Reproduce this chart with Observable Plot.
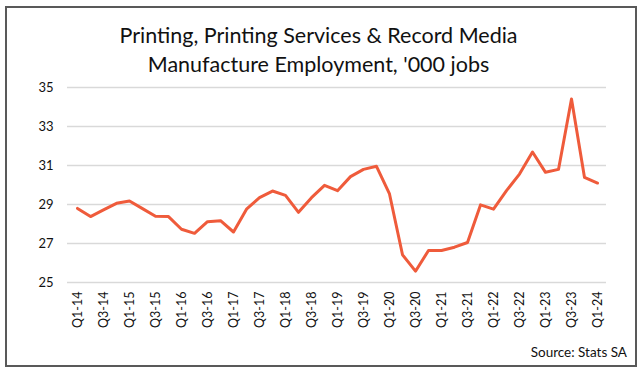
<!DOCTYPE html>
<html>
<head>
<meta charset="utf-8">
<script src="https://cdn.jsdelivr.net/npm/d3@7"></script>
<script src="https://cdn.jsdelivr.net/npm/@observablehq/plot@0.6"></script>
<style>
  html, body { margin: 0; padding: 0; background: #fff; }
  #wrap { position: relative; width: 643px; height: 383px; font-family: Lato, "Open Sans", sans-serif; }
  #frame { position: absolute; left: 5px; top: 6px; width: 628px; height: 357px; border: 2px solid #595959; }
  #title { position: absolute; left: -3px; width: 643px; top: 21px; text-align: center; font-size: 21.5px; line-height: 29px; color: #111; }
  #chart { position: absolute; left: 0; top: 76px; }
  #source { position: absolute; right: 16px; top: 344px; font-size: 13.5px; color: #111; }
</style>
</head>
<body>
<div id="wrap">
  <div id="frame"></div>
  <div id="title">Printing, Printing Services &amp; Record Media<br>Manufacture Employment, '000 jobs</div>
  <div id="chart"></div>
  <div id="source">Source: Stats SA</div>
</div>
<script>
const quarters = [
  "Q1-14","Q2-14","Q3-14","Q4-14",
  "Q1-15","Q2-15","Q3-15","Q4-15",
  "Q1-16","Q2-16","Q3-16","Q4-16",
  "Q1-17","Q2-17","Q3-17","Q4-17",
  "Q1-18","Q2-18","Q3-18","Q4-18",
  "Q1-19","Q2-19","Q3-19","Q4-19",
  "Q1-20","Q2-20","Q3-20","Q4-20",
  "Q1-21","Q2-21","Q3-21","Q4-21",
  "Q1-22","Q2-22","Q3-22","Q4-22",
  "Q1-23","Q2-23","Q3-23","Q4-23",
  "Q1-24"
];
const jobs = [
  28.80, 28.38, 28.72, 29.06,
  29.18, 28.79, 28.40, 28.38,
  27.73, 27.52, 28.12, 28.17,
  27.59, 28.76, 29.35, 29.69,
  29.47, 28.60, 29.35, 29.98,
  29.71, 30.43, 30.80, 30.96,
  29.54, 26.42, 25.58, 26.64,
  26.64, 26.81, 27.05, 28.98,
  28.76, 29.71, 30.56, 31.69,
  30.65, 30.80, 34.41, 30.39,
  30.10
];
const xTickLabels = [
  "Q1-14","Q3-14","Q1-15","Q3-15","Q1-16","Q3-16","Q1-17","Q3-17",
  "Q1-18","Q3-18","Q1-19","Q3-19","Q1-20","Q3-20","Q1-21","Q3-21",
  "Q1-22","Q3-22","Q1-23","Q3-23","Q1-24"
];
const yTicks = [25, 27, 29, 31, 33, 35];

const data = quarters.map((q, i) => ({q, v: jobs[i]}));

const chart = Plot.plot({
  width: 643,
  height: 270,
  marginLeft: 67,
  marginRight: 37,
  marginTop: 11,
  marginBottom: 64,
  style: {fontFamily: "Lato, 'Open Sans', sans-serif", color: "#111", background: "transparent"},
  x: {type: "point", domain: quarters, padding: 0.5},
  y: {domain: [25, 35]},
  marks: [
    Plot.gridY(yTicks, {stroke: "#d9d9d9", strokeOpacity: 1, strokeWidth: 1.5}),
    Plot.axisY(yTicks, {tickSize: 0, tickPadding: 14, fontSize: 13, label: null}),
    Plot.axisX(xTickLabels, {tickSize: 0, tickPadding: 9, tickRotate: -90, fontSize: 12.5, label: null}),
    Plot.line(data, {x: "q", y: "v", stroke: "#EF5B3B", strokeWidth: 3, strokeLinejoin: "round"})
  ]
});
document.getElementById("chart").appendChild(chart);
</script>
</body>
</html>
